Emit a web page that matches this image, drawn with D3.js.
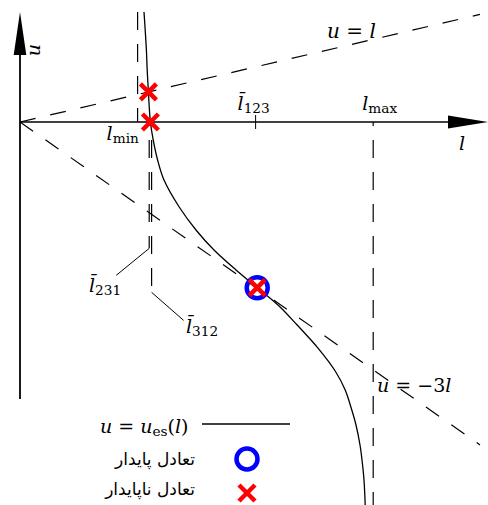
<!DOCTYPE html>
<html><head><meta charset="utf-8">
<script src="https://cdn.jsdelivr.net/npm/d3@7"></script>
<style>body{margin:0;background:#fff}svg{display:block}</style>
</head><body>
<svg id="c" width="488" height="505"></svg>
<script>
// ---- data ----
const curveL = [3.10,3.13,3.16,3.18,3.21,3.26,3.33,3.44,3.60,3.98,4.40,4.85,5.40,5.93,6.45,6.93,7.45,7.88,8.13,8.28,8.40,8.50,8.55,8.60,8.63];
const curveU = [11.75,9.83,7.69,5.56,3.21,0,-1.92,-4.06,-6.20,-9.08,-11.54,-13.68,-15.81,-17.70,-19.55,-21.69,-24.15,-26.60,-28.63,-30.56,-32.37,-34.51,-36.11,-38.25,-40.92];
const stableL = [5.93];
const stableU = [-17.70];
const unstableL = [5.93, 3.21, 3.26];
const unstableU = [-17.70, 3.21, 0];
const lMin = 2.94, l123 = 5.89, lMax = 8.83, l231 = 3.23, l312 = 3.29;
const lineEndL = 11.5;
const legendLabels = ["u = u_es(l)", "تعادل پایدار", "تعادل ناپایدار"];

// ---- scales ----
const svg = d3.select("#c");
const x = d3.scaleLinear().domain([0, 11.7]).range([20, 488]);
const y = d3.scaleLinear().domain([0, -40]).range([122, 496.4]);
const MF = "'DejaVu Serif', 'Liberation Serif', serif";
const AF = "'DejaVu Sans', sans-serif";

// ---- axes ----
svg.append("line").attr("x1", x(0)).attr("x2", x(11.0)).attr("y1", y(0)).attr("y2", y(0))
  .attr("stroke", "#000").attr("stroke-width", 1.5);
svg.append("line").attr("x1", x(0)).attr("x2", x(0)).attr("y1", y(-29.6)).attr("y2", y(10))
  .attr("stroke", "#000").attr("stroke-width", 1.8);
// arrowheads
svg.append("path").attr("d", `M${x(11.7)},${y(0)} L${x(11.7)-40},${y(0)-6.5} L${x(11.7)-40},${y(0)+6.5} Z`).attr("fill", "#000");
svg.append("path").attr("d", `M${x(0)},${y(11.75)} L${x(0)-6.3},${y(11.75)+43} L${x(0)+6.3},${y(11.75)+43} Z`).attr("fill", "#000");

// ---- reference lines ----
const dashed = (sel) => sel.attr("stroke", "#000").attr("stroke-width", 1.2).attr("fill", "none").attr("stroke-dasharray", "16,15");
dashed(svg.append("line").attr("x1", x(0)).attr("y1", y(0)).attr("x2", x(lineEndL)).attr("y2", y(lineEndL)));
dashed(svg.append("line").attr("x1", x(0)).attr("y1", y(0)).attr("x2", x(lineEndL)).attr("y2", y(-3 * lineEndL)));

const vdash = (l, u1, u2, off) => svg.append("line").attr("x1", x(l)).attr("x2", x(l)).attr("y1", y(u1)).attr("y2", y(u2))
  .attr("stroke", "#000").attr("stroke-width", 1.2).attr("stroke-dasharray", "18,14").attr("stroke-dashoffset", off || 0);
vdash(lMin, 11.75, 0, 0);
vdash(lMax, 0, -41, 14);
vdash(l231, 0, -13.5, 14);
vdash(l312, 0, -18.2, 14);
// leader lines
svg.append("line").attr("x1", x(l231)).attr("y1", y(-13.5)).attr("x2", x(l231) - 33).attr("y2", y(-13.5) + 27).attr("stroke", "#000").attr("stroke-width", 1);
svg.append("line").attr("x1", x(l312)).attr("y1", y(-18.2)).attr("x2", x(l312) + 32).attr("y2", y(-18.2) + 28).attr("stroke", "#000").attr("stroke-width", 1);
// tick at l123
svg.append("line").attr("x1", x(l123)).attr("x2", x(l123)).attr("y1", y(0) - 7).attr("y2", y(0) + 7).attr("stroke", "#000").attr("stroke-width", 1);

// ---- curve ----
const pts = curveL.map((l, i) => [l, curveU[i]]);
svg.append("path").datum(pts)
  .attr("d", d3.line().x(d => x(d[0])).y(d => y(d[1])).curve(d3.curveCatmullRom.alpha(0.5)))
  .attr("fill", "none").attr("stroke", "#000").attr("stroke-width", 1.3);

// ---- markers ----
function circ(cx, cy) {
  svg.append("circle").attr("cx", cx).attr("cy", cy).attr("r", 10.5).attr("fill", "none").attr("stroke", "#0000ff").attr("stroke-width", 4.5);
}
function cross(cx, cy) {
  const s = 8;
  svg.append("path").attr("d", `M${cx-s},${cy-s}L${cx+s},${cy+s}M${cx-s},${cy+s}L${cx+s},${cy-s}`)
    .attr("stroke", "#ff0000").attr("stroke-width", 4.5).attr("fill", "none");
}
stableL.forEach((l, i) => circ(x(l), y(stableU[i])));
unstableL.forEach((l, i) => cross(x(l), y(unstableU[i])));

// ---- math labels ----
function mathLabel(px, py, parts, size) {
  const t = svg.append("text").attr("x", px).attr("y", py).attr("font-family", MF).attr("font-size", size || 19).attr("fill", "#000");
  parts.forEach(p => {
    const ts = t.append("tspan").text(p.t);
    if (p.i) ts.attr("font-style", "italic");
    if (p.sub) ts.attr("font-size", (size || 19) * 0.72).attr("dy", 3);
    if (p.up) ts.attr("dy", -3);
  });
  return t;
}
const LB = "l\u0304";
mathLabel(40, 50, [{t: "u", i: 1}]).attr("transform", "rotate(-90, 40, 50)").attr("text-anchor", "middle");
mathLabel(459, 150, [{t: "l", i: 1}]);
mathLabel(327, 38, [{t: "u", i: 1}, {t: " = "}, {t: "l", i: 1}], 20);
mathLabel(377, 392, [{t: "u", i: 1}, {t: " = −3"}, {t: "l", i: 1}]);
mathLabel(x(lMin) - 31, 140, [{t: "l", i: 1}, {t: "min", sub: 1}]);
mathLabel(x(l123) - 18, 110, [{t: LB, i: 1}, {t: "123", sub: 1}]);
mathLabel(x(lMax) - 11, 110, [{t: "l", i: 1}, {t: "max", sub: 1}]);
mathLabel(89, 292, [{t: LB, i: 1}, {t: "231", sub: 1}]);
mathLabel(186, 333, [{t: LB, i: 1}, {t: "312", sub: 1}]);

// ---- legend ----
mathLabel(100, 433, [{t: "u", i: 1}, {t: " = "}, {t: "u", i: 1}, {t: "es", sub: 1}, {t: "(", up: 1}, {t: "l", i: 1}, {t: ")"}]);
svg.append("line").attr("x1", 202).attr("x2", 290).attr("y1", 424).attr("y2", 424).attr("stroke", "#000").attr("stroke-width", 1.3);
svg.append("text").attr("x", 195).attr("y", 465).attr("text-anchor", "start").attr("direction", "rtl")
  .attr("font-family", AF).attr("font-size", 17).text(legendLabels[1]);
circ(247, 459);
svg.append("text").attr("x", 195).attr("y", 495).attr("text-anchor", "start").attr("direction", "rtl")
  .attr("font-family", AF).attr("font-size", 17).text(legendLabels[2]);
cross(247, 493);
</script>
</body></html>
